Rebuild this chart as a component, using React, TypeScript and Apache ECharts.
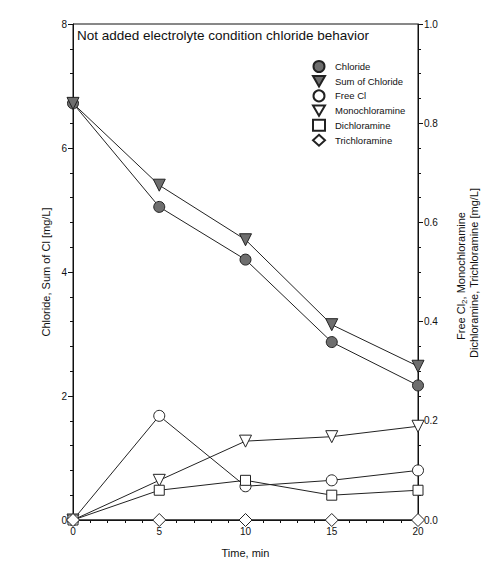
import React, { useEffect, useRef } from "react";
import * as echarts from "echarts";

const times = [0, 5, 10, 15, 20];
const chloride = [6.72, 5.05, 4.2, 2.87, 2.17];
const sumChloride = [6.72, 5.4, 4.52, 3.15, 2.48];
const freeCl = [0, 0.21, 0.068, 0.08, 0.1];
const monochloramine = [0, 0.08, 0.159, 0.168, 0.189];
const dichloramine = [0, 0.06, 0.08, 0.05, 0.06];
const trichloramine = [0, 0, 0, 0, 0];

const FONT = "Liberation Sans, Arial, sans-serif";
const DOWN_TRI = "path://M0,0L20,0L10,17.3Z";

export default function App() {
  const ref = useRef<HTMLDivElement>(null);
  useEffect(() => {
    if (!ref.current) return;
    const chart = echarts.init(ref.current, null, { renderer: "svg" });
    const pair = (ys: number[]) => times.map((t, i) => [t, ys[i]]);
    const lineStyle = { color: "#222", width: 1 };
    const mk = (
      name: string,
      data: number[],
      yIdx: number,
      symbol: string,
      size: number,
      fill: string
    ) => ({
      name,
      type: "line",
      yAxisIndex: yIdx,
      data: pair(data),
      symbol,
      symbolSize: size,
      showAllSymbol: true,
      lineStyle,
      itemStyle: { color: fill, borderColor: "#222", borderWidth: 1 },
      emphasis: { disabled: true },
      z: 3,
    });
    chart.setOption({
      animation: false,
      textStyle: { fontFamily: FONT },
      title: {
        text: "Not added electrolyte condition chloride behavior",
        left: 77,
        top: 28,
        padding: 0,
        textStyle: { fontSize: 13.5, fontWeight: "normal", color: "#111", fontFamily: FONT },
      },
      legend: {
        orient: "vertical",
        left: 312,
        top: 60,
        padding: 0,
        itemWidth: 12,
        itemHeight: 11,
        itemGap: 2,
        textStyle: { fontSize: 9.5, color: "#111", fontFamily: FONT, padding: [0, 0, 0, 5] },
        data: [
          { name: "Chloride", icon: "circle" },
          { name: "Sum of Chloride", icon: DOWN_TRI },
          { name: "Free Cl", icon: "circle" },
          { name: "Monochloramine", icon: DOWN_TRI },
          { name: "Dichloramine", icon: "rect" },
          { name: "Trichloramine", icon: "diamond" },
        ],
      },
      grid: {
        left: 73,
        right: 68,
        top: 24,
        bottom: 45,
        show: true,
        borderColor: "#111",
        borderWidth: 1,
        backgroundColor: "transparent",
      },
      xAxis: {
        type: "value",
        min: 0,
        max: 20,
        interval: 5,
        axisLine: { show: true, onZero: false, lineStyle: { color: "#111" } },
        axisTick: { show: true, length: 5, lineStyle: { color: "#111" } },
        minorTick: { show: true, splitNumber: 5, length: 3, lineStyle: { color: "#111" } },
        splitLine: { show: false },
        axisLabel: { fontSize: 10, color: "#111", margin: 6 },
        name: "Time, min",
        nameLocation: "middle",
        nameGap: 27,
        nameTextStyle: { fontSize: 11, color: "#111" },
      },
      yAxis: [
        {
          type: "value",
          min: 0,
          max: 8,
          interval: 2,
          axisLine: { show: true, lineStyle: { color: "#111" } },
          axisTick: { show: true, length: 5, lineStyle: { color: "#111" } },
          minorTick: { show: true, splitNumber: 5, length: 3, lineStyle: { color: "#111" } },
          splitLine: { show: false },
          axisLabel: { fontSize: 10, color: "#111", margin: 6 },
        },
        {
          type: "value",
          min: 0,
          max: 1,
          interval: 0.2,
          position: "right",
          axisLine: { show: true, lineStyle: { color: "#111" } },
          axisTick: { show: true, length: 5, lineStyle: { color: "#111" } },
          minorTick: { show: true, splitNumber: 4, length: 3, lineStyle: { color: "#111" } },
          splitLine: { show: false },
          axisLabel: {
            fontSize: 10,
            color: "#111",
            margin: 6,
            formatter: (v: number) => v.toFixed(1),
          },
        },
      ],
      graphic: [
        {
          type: "text",
          x: 46,
          y: 272,
          rotation: Math.PI / 2,
          style: {
            text: "Chloride, Sum of Cl [mg/L]",
            fontSize: 11,
            fontFamily: FONT,
            fill: "#111",
            align: "center",
            verticalAlign: "middle",
          },
        },
        {
          type: "text",
          x: 461,
          y: 276,
          rotation: Math.PI / 2,
          style: {
            text: "Free Cl{s|2}, Monochloramine",
            fontSize: 11,
            fontFamily: FONT,
            fill: "#111",
            align: "center",
            verticalAlign: "middle",
            rich: {
              s: { fontSize: 8, fontFamily: FONT, fill: "#111", verticalAlign: "bottom", padding: [6, 0, 0, 0] },
            },
          },
        },
        {
          type: "text",
          x: 474,
          y: 273,
          rotation: Math.PI / 2,
          style: {
            text: "Dichloramine, Trichloramine [mg/L]",
            fontSize: 11,
            fontFamily: FONT,
            fill: "#111",
            align: "center",
            verticalAlign: "middle",
          },
        },
      ],
      series: [
        mk("Chloride", chloride, 0, "circle", 11, "#6e6e6e"),
        mk("Sum of Chloride", sumChloride, 0, DOWN_TRI, 12, "#6e6e6e"),
        mk("Free Cl", freeCl, 1, "circle", 11, "#fff"),
        mk("Monochloramine", monochloramine, 1, DOWN_TRI, 12, "#fff"),
        mk("Dichloramine", dichloramine, 1, "rect", 10, "#fff"),
        mk("Trichloramine", trichloramine, 1, "diamond", 13, "#fff"),
      ],
    });
    return () => chart.dispose();
  }, []);
  return (
    <div
      ref={ref}
      style={{ position: "absolute", left: 0, top: 0, width: 486, height: 565 }}
    />
  );
}
